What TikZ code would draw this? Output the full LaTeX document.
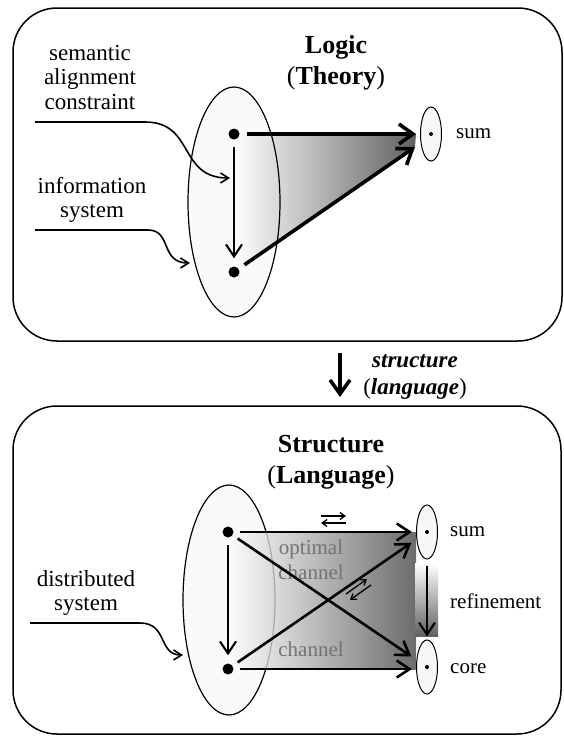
\documentclass[tikz,border=0pt]{standalone}
\usepackage{fontspec}
\setmainfont{Liberation Serif}
\usetikzlibrary{arrows.meta,shapes.geometric}
\pgfdeclarelayer{back}
\pgfdeclarelayer{shadelayer}
\pgfsetlayers{back,shadelayer,main}
\begin{document}
\begin{tikzpicture}[x=1pt,y=-1pt,
  panel/.style={draw, line width=1.5pt, rounded corners=44pt, inner sep=0pt},
  bigell/.style={ellipse, draw, line width=1.2pt, inner sep=0pt, minimum width=92pt, minimum height=230pt},
  smallell/.style={ellipse, draw, line width=1pt, fill=black!3, inner sep=0pt, minimum width=21pt, minimum height=54pt},
  bigdot/.style={circle, fill=black, inner sep=0pt, minimum size=11pt},
  smalldot/.style={circle, fill=black, inner sep=0pt, minimum size=4pt},
  lbl/.style={font=\fontsize{23}{24.5}\selectfont, align=center, inner sep=0pt},
  ttl/.style={font=\fontsize{26}{31}\selectfont\bfseries, align=center, inner sep=0pt},
  sml/.style={font=\fontsize{21}{24}\selectfont, inner sep=0pt, anchor=west},
  glbl/.style={font=\fontsize{21}{25}\selectfont, text=black!55, align=center, inner sep=0pt},
  heavyarrow/.style={line width=3.6pt, -{Straight Barb[length=14pt,width=20pt]}},
  medarrow/.style={line width=2.6pt, -{Straight Barb[length=13pt,width=17pt]}},
  thinarrow/.style={line width=2.1pt, -{Straight Barb[length=12pt,width=16pt]}},
  leader/.style={line width=2.4pt},
  curvearrow/.style={line width=1.6pt, -{Straight Barb[length=8pt,width=10pt]}},
  tinyarrow/.style={line width=1.3pt, -{Straight Barb[length=5pt,width=7pt]}},
]
\useasboundingbox (0,0) rectangle (564,736);

% ---------------- panels ----------------
\node[panel, minimum width=549pt, minimum height=333pt] (boxT) at (287.5,174.5) {};
\node[panel, minimum width=548pt, minimum height=328pt] (boxB) at (287,570) {};

% ---------------- top panel ----------------
\coordinate (p1) at (234,134);
\coordinate (p2) at (234,272);
\coordinate (tA) at (416,134);
\coordinate (tD) at (415,147);
\node[bigell] (eT) at (234,202) {};
\begin{pgfonlayer}{back}
  \fill[black!2] (eT.center) ellipse [x radius=46, y radius=115];
\end{pgfonlayer}
\begin{pgfonlayer}{shadelayer}
  \shade[left color=white, right color=black!62] (p1) -- (tA) -- (tD) -- (p2) -- cycle;
\end{pgfonlayer}
\node[smallell] (sT) at (431,134) {};
\node[smalldot] (sTd) at (sT.center) {};
\node[bigdot] (d1) at (p1) {};
\node[bigdot] (d2) at (p2) {};
\draw[thinarrow, shorten <=7pt, shorten >=8pt] (d1) -- (d2);
\draw[heavyarrow, shorten <=7pt] (d1) -- (tA);
\draw[heavyarrow, shorten <=7pt] (d2) -- (tD);

\node[ttl] (logT) at (336,63) {Logic\\{\mdseries(}Theory{\mdseries)}};
\node[sml] (sumT) at (456,134) {sum};

\node[lbl] (semL) at (90,77) {semantic\\alignment\\constraint};
\coordinate (semA) at (35,122);
\coordinate (semB) at (145,122);
\coordinate (semC) at (230,178);
\draw[leader] (semA) -- (semB);
\draw[curvearrow] (semB) .. controls (195,122) and (178,178) .. (semC);

\node[lbl] (infL) at (92,200) {information\\system};
\coordinate (infA) at (35,230);
\coordinate (infB) at (148,230);
\coordinate (infC) at (190,263);
\draw[leader] (infA) -- (infB);
\draw[curvearrow] (infB) .. controls (172,230) and (160,263) .. (infC);

% ---------------- middle arrow ----------------
\coordinate (mA) at (340,353);
\coordinate (mB) at (340,397);
\draw[heavyarrow] (mA) -- (mB);
\node[lbl, font=\fontsize{23}{27}\selectfont\bfseries\itshape] (strL) at (415,377)
  {structure\\{\mdseries\upshape(}language{\mdseries\upshape)}};

% ---------------- bottom panel ----------------
\node[bigell, fill=black!2] (eB) at (229,600) {};
\coordinate (p3) at (228,532);
\coordinate (p4) at (228,669);
\node[smallell] (sB) at (427,532) {};
\node[smallell] (cB) at (427,667) {};
\shade[left color=white, right color=black!72, fill opacity=0.8] (p3) -- (p3 -| sB.west) -- (p4 -| cB.west) -- (p4) -- cycle;
\shade[top color=white, bottom color=black!62] (415,563) rectangle (438,636);
\node[smalldot] (sBd) at (sB.center) {};
\node[smalldot] (cBd) at (cB.center) {};
\node[bigdot] (d3) at (p3) {};
\node[bigdot] (d4) at (p4) {};

\node[glbl] (optL) at (311,560) {optimal\\channel};
\node[glbl] (chL) at (311,649) {channel};

\draw[thinarrow, shorten <=7pt, shorten >=8pt] (d3) -- (d4);
\draw[medarrow, shorten <=6pt, shorten >=4pt] (d3) -- (d3 -| sB.west);
\draw[medarrow, shorten <=6pt, shorten >=4pt] (d4) -- (d4 -| cB.west);
\draw[medarrow, shorten <=6pt, shorten >=6pt] (d3) -- (cB);
\draw[medarrow, shorten <=6pt, shorten >=6pt] (d4) -- (sB);
\draw[thinarrow, shorten <=6pt, shorten >=3pt] (sB) -- (cB);

% small double arrows
\draw[tinyarrow] (321,516) -- (346,516);
\draw[tinyarrow] (346,523) -- (321,523);
\draw[tinyarrow] (346,594) -- (367,579);
\draw[tinyarrow] (371,585) -- (350,600);

\node[ttl] (strT) at (331,462) {Structure\\{\mdseries(}Language{\mdseries)}};
\node[sml] (sumB) at (450,532) {sum};
\node[sml] (refB) at (450,601) {refinement};
\node[sml] (coreB) at (450,669) {core};

\node[lbl] (disL) at (86,593) {distributed\\system};
\coordinate (disA) at (30,623);
\coordinate (disB) at (140,623);
\coordinate (disC) at (183,655);
\draw[leader] (disA) -- (disB);
\draw[curvearrow] (disB) .. controls (168,623) and (158,655) .. (disC);
\end{tikzpicture}
\end{document}
